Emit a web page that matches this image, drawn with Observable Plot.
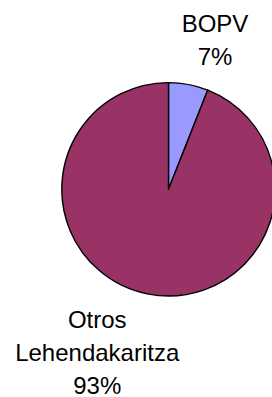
<!DOCTYPE html>
<html>
<head>
<meta charset="utf-8">
<script src="https://cdn.jsdelivr.net/npm/d3@7"></script>
<script src="https://cdn.jsdelivr.net/npm/@observablehq/plot@0.6"></script>
<style>
  html, body { margin: 0; padding: 0; background: #fff; }
  svg { display: block; }
</style>
</head>
<body>
<div id="chart"></div>
<script>
// Data
const categories = ["BOPV", "Otros Lehendakaritza"];
const values = [6, 94];
const percentLabels = ["7%", "93%"];
const colors = ["#9999FF", "#993366"];

const data = categories.map((c, i) => ({category: c, value: values[i], pct: percentLabels[i]}));

// Layout
const W = 272, H = 397;
const cx = 168.5, cy = 189.3, radius = 106.7, labelRadius = 160;
const arcs = d3.pie().sort(null).value(d => d.value)(data);
const arcGen = d3.arc().innerRadius(0).outerRadius(radius);
const labelArc = d3.arc().innerRadius(labelRadius).outerRadius(labelRadius);
arcs.forEach(a => {
  const [lx, ly] = labelArc.centroid(a);
  a.data.lx = cx + lx;
  a.data.ly = cy + ly;
  a.data.label = a.data.category.replace(" ", "\n") + "\n" + a.data.pct;
});

const colorScale = d3.scaleOrdinal(categories, colors);

function pieMark(index, scales) {
  const color = scales.color || colorScale;
  const g = d3.create("svg:g")
    .attr("transform", `translate(${scales.x(cx)},${scales.y(cy)})`);
  g.selectAll("path")
    .data(arcs)
    .join("path")
    .attr("d", arcGen)
    .attr("fill", d => color(d.data.category))
    .attr("stroke", "#000")
    .attr("stroke-width", 1.4)
    .attr("stroke-linejoin", "round");
  return g.node();
}

const textOpts = {
  x: "lx", y: "ly", text: "label",
  fontSize: 24, lineHeight: 1.36, lineAnchor: "middle", textAnchor: "middle",
  fill: "#000", fontFamily: "'Liberation Sans', Arial, sans-serif"
};

const chart = Plot.plot({
  width: W,
  height: H,
  margin: 0,
  x: {domain: [0, W], range: [0, W], axis: null},
  y: {domain: [0, H], range: [0, H], axis: null},
  color: {domain: categories, range: colors},
  style: {fontFamily: "'Liberation Sans', Arial, sans-serif", background: "#fff", overflow: "hidden"},
  marks: [
    Plot.dot(data, {x: () => cx, y: () => cy, fill: "category", r: 0}),
    pieMark,
    Plot.text([data[0]], {...textOpts, dx: 16, dy: 5.5}),
    Plot.text([data[1]], {...textOpts, dx: -41.8, dy: 3.5})
  ]
});

document.getElementById("chart").appendChild(chart);
</script>
</body>
</html>
